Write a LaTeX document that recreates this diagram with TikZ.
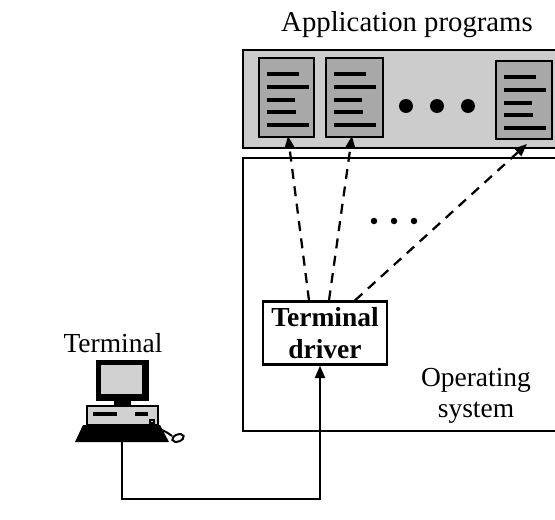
\documentclass[tikz,border=0pt]{standalone}
\usepackage{fontspec}
\setmainfont{Liberation Serif}
\usetikzlibrary{arrows.meta}
\definecolor{panelgray}{gray}{0.80}
\definecolor{docgray}{gray}{0.66}
\definecolor{screengray}{gray}{0.82}
\tikzset{
  frame/.style={draw=black, line width=1.1pt},
  doc/.style={draw=black, line width=1.1pt, fill=docgray},
  docline/.style={line width=1.3pt},
  bigdot/.style={circle, fill=black, inner sep=0pt, minimum size=5.6pt},
  smalldot/.style={circle, fill=black, inner sep=0pt, minimum size=2.6pt},
  drvbox/.style={draw=black, line width=0.9pt, fill=white, font=\fontsize{11}{12.5}\selectfont\bfseries, align=center, inner sep=0pt, minimum width=49.6pt, minimum height=25.2pt},
  lbl/.style={font=\fontsize{11}{12.5}\selectfont, align=center, inner sep=0pt},
  solidarrow/.style={line width=0.9pt, -{Triangle[length=5pt,width=4pt]}},
  dasharrow/.style={line width=0.9pt, dashed, dash pattern=on 4pt off 3pt, -{Triangle[length=5pt,width=4pt]}}
}
\begin{document}
\begin{tikzpicture}[x=0.4pt, y=-0.4pt]
\useasboundingbox (0,0) rectangle (555,520);

% application programs panel
\filldraw[frame, fill=panelgray] (243,50) rectangle (575,148);
\node[lbl, font=\fontsize{11.5}{13}\selectfont] (apptitle) at (407,25) {Application programs};

% program listings
\foreach \n/\xa/\xb/\ya/\yb in {1/259/314/58/137, 2/326/383/58/137, 3/496/552/61/139}{
  \filldraw[doc] (\xa,\ya) rectangle (\xb,\yb);
  \coordinate (p\n) at ({(\xa+\xb)/2},\yb);
  \draw[docline] (\xa+8,\ya+16) -- (\xa+40,\ya+16);
  \draw[docline] (\xa+8,\ya+29) -- (\xa+50,\ya+29);
  \draw[docline] (\xa+8,\ya+42) -- (\xa+36,\ya+42);
  \draw[docline] (\xa+8,\ya+54) -- (\xa+37,\ya+54);
  \draw[docline] (\xa+8,\ya+67) -- (\xa+50,\ya+67);
}
\node[bigdot] (d1) at (406,106) {};
\node[bigdot] (d2) at (437,106) {};
\node[bigdot] (d3) at (468,106) {};

% operating system region
\draw[frame] (575,158) -- (243,158) -- (243,431) -- (575,431);
\node[smalldot] (s1) at (374,221) {};
\node[smalldot] (s2) at (394,221) {};
\node[smalldot] (s3) at (414,221) {};
\node[lbl] (os) at (476,396) {Operating\\system};

% terminal driver
\node[drvbox] (drv) at (325,333) {Terminal\\driver};

% driver to programs
\coordinate (t1) at (288,136);
\coordinate (t2) at (352,136);
\coordinate (t3) at (527,144);
\draw[dasharrow] ([xshift=-16*0.4pt]drv.north) -- (t1);
\draw[dasharrow] ([xshift=4*0.4pt]drv.north) -- (t2);
\draw[dasharrow] ([xshift=30*0.4pt]drv.north) -- (t3);

% terminal
\node[lbl] (termlbl) at (113,343) {Terminal};
% monitor
\filldraw[black] (96,360) rectangle (148,400);
\filldraw[fill=screengray, draw=none] (101,365) rectangle (142,394);
\filldraw[black] (114,400) rectangle (130,406);
% system unit
\filldraw[fill=screengray, draw=black, line width=0.9pt] (87,406) rectangle (158,425);
\draw[line width=1.6pt] (93,414) -- (117,414);
\draw[line width=1.3pt] (135,414) -- (148,414);
\draw[line width=0.6pt] (150,420) rectangle (154,423);
% keyboard
\fill[black] (83,425) -- (160,425) -- (169,442) -- (75,442) -- cycle;
% mouse
\draw[line width=0.8pt] (157,428) .. controls (165,431) and (168,433) .. (172,436);
\filldraw[fill=white, draw=black, line width=0.8pt, rotate around={20:(178,438)}] (178,438) ellipse (6 and 3.5);
\coordinate (term) at (122,442);
\coordinate (c1) at (122,499);
\coordinate (c2) at (320,499);

% terminal to driver
\draw[solidarrow] (term) -- (c1) -- (c2) -- (drv.south -| c2);
\end{tikzpicture}
\end{document}
